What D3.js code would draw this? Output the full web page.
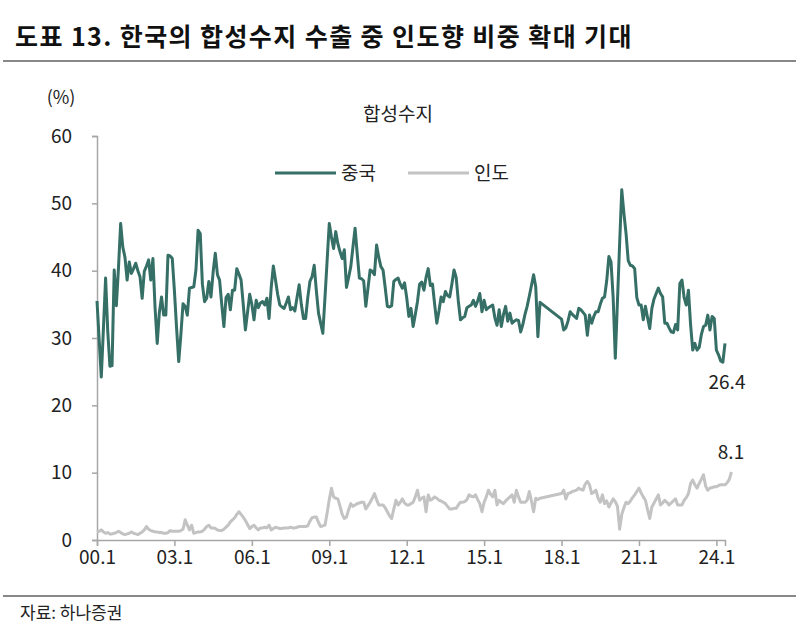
<!DOCTYPE html>
<meta charset="utf-8">
<style>
body { margin: 0; background: #fff; }
svg text { font-family: "Noto Sans CJK KR", "Noto Sans", sans-serif; fill: #222; }
</style>
<body>
<svg width="800" height="643"></svg>
<script src="https://cdn.jsdelivr.net/npm/d3@7"></script>
<script>
// monthly share (%) of Korea's synthetic resin exports, from 2000.1
// null = month missing in the source (line just joins across)
var chinaShare = [
  35.5, 29.8, 24.2, 31.5, 38.9, 31.0, 25.8, 25.9, 40.1, 34.8, 40.5, 47.0, // 2000
  43.5, 42.0, 38.6, 41.3, 39.6, 40.3, 41.1, 40.0, 39.1, 35.9, 39.9, 40.7, // 2001
  41.6, 38.6, 41.8, 34.5, 29.2, 33.8, 36.1, 33.4, 33.4, 42.3, 42.2, 41.8, // 2002
  37.0, 31.5, 26.5, 30.5, 35.1, 34.7, 33.4, 37.4, 37.5, 37.6, 40.1, 46.0, // 2003
  45.5, 38.0, 35.4, 35.9, 38.4, 36.1, 39.8, 42.6, 39.4, 38.6, 35.0, 31.7, // 2004
  36.0, 36.5, 34.2, 37.1, 37.1, 40.3, 39.5, 38.6, 35.0, 31.2, 33.8, 36.5, // 2005
  35.0, 32.7, 35.6, 34.5, 35.2, 35.4, 34.9, 35.9, 32.9, 37.5, 40.7, 38.6, // 2006
  36.5, 34.9, 34.6, 34.4, 35.2, 36.1, 34.2, 34.5, 34.0, 36.0, 37.9, 35.0, // 2007
  32.9, 32.9, 36.0, 38.4, 39.1, 40.8, 37.0, 33.7, 32.2, 30.7, 36.0, 41.5, // 2008
  47.0, 45.0, 43.3, 45.8, 44.0, 42.8, 41.8, 43.1, 37.5, 39.0, 40.6, 43.5, // 2009
  46.3, 42.5, 38.9, 38.8, 38.5, 34.7, 37.4, 40.1, 39.9, 39.4, 43.8, 42.0, // 2010
  40.6, 40.1, 37.5, 34.7, 34.6, 34.8, 38.4, 38.7, 38.9, 38.0, 37.4, 38.2, // 2011
  36.0, 33.2, 34.4, 31.7, 33.5, 35.4, 38.0, 38.3, 37.1, 39.0, 40.3, 37.8, // 2012
  38.0, 35.0, 32.2, 34.0, 36.1, 35.4, 36.9, 36.3, 36.1, 38.0, 40.1, 39.0, // 2013
  35.5, 32.7, 33.0, 33.2, 34.5, 34.7, 34.9, 35.6, 34.7, 35.5, 36.6, 33.9, // 2014
  35.6, 34.2, 34.5, 34.7, 34.9, 33.0, 31.9, 34.2, 31.7, 33.5, 34.7, 32.5, // 2015
  33.7, 32.2, 32.5, 32.7, 32.6, 30.9, 32.0, 33.5, 34.7, 36.2, 37.8, 39.4, // 2016
  37.6, 30.2, 35.3, null, null, null, null, null, null, null, null, null, // 2017
  32.8, 31.2, 31.5, 32.5, 33.9, 33.5, 33.2, 32.9, 34.4, 34.2, 33.8, 33.4, // 2018
  30.4, 33.4, 32.2, 33.2, 33.9, 33.9, 35.0, 35.9, 36.1, 38.5, 42.1, 41.3, // 2019
  36.0, 27.0, 35.5, 44.0, 52.0, 48.5, 45.5, 41.5, 40.8, 40.7, 40.3, 36.0, // 2020
  34.9, 34.9, 32.7, 34.7, 33.0, 31.4, 34.4, 35.8, 36.6, 37.4, 36.6, 36.1, // 2021
  32.2, 32.2, 31.5, 30.9, 30.8, 32.0, 31.2, 38.1, 38.6, 36.0, 34.9, 37.1, // 2022
  32.0, 28.2, 29.2, 28.2, 28.6, 30.5, 31.7, 31.9, 33.4, 31.2, 33.2, 32.9, // 2023
  28.2, 27.5, 26.6, 26.4, 29.2                                            // 2024
];

var indiaShare = [
  1.2, 1.3, 1.5, 1.2, 1.0, 1.1, 0.9, 0.9, 1.0, 1.1, 1.3, 1.1, // 2000
  0.9, 0.8, 0.9, 1.0, 1.2, 1.0, 0.9, 0.8, 1.0, 1.2, 1.5, 2.0, // 2001
  1.6, 1.4, 1.3, 1.2, 1.2, 1.1, 1.1, 1.0, 1.0, 1.1, 1.4, 1.3, // 2002
  1.3, 1.3, 1.3, 1.4, 1.6, 3.0, 2.2, 1.5, 2.2, 1.0, 1.1, 1.2, // 2003
  1.2, 1.3, 1.6, 2.0, 2.2, 1.8, 1.8, 1.7, 1.5, 1.4, 1.4, 1.6, // 2004
  1.9, 2.2, 2.7, 3.0, 3.3, 3.8, 4.2, 3.8, 3.4, 2.9, 2.3, 1.7, // 2005
  2.0, 2.2, 1.8, 1.5, 1.8, 1.8, 1.9, 1.8, 2.2, 1.5, 1.7, 1.9, // 2006
  1.8, 1.7, 1.7, 1.8, 1.8, 1.8, 1.9, 1.8, 1.8, 1.9, 2.0, 2.0, // 2007
  2.0, 2.0, 2.1, 2.8, 3.3, 3.4, 3.4, 2.6, 2.0, 2.1, 2.2, 4.0, // 2008
  6.0, 7.7, 6.4, 6.2, 6.1, 5.0, 3.8, 3.2, 3.4, 4.5, 5.4, 5.0, // 2009
  5.2, 5.4, 5.5, 5.6, 5.6, 4.6, 5.1, 5.6, 6.2, 6.9, 6.0, 5.2, // 2010
  5.2, 5.2, 4.8, 4.2, 3.6, 3.2, 4.6, 5.9, 5.2, 5.6, 6.1, 5.5, // 2011
  5.2, 5.2, 5.4, 5.6, 6.4, 7.4, 5.9, 6.2, 6.4, 4.2, 6.7, 5.9, // 2012
  6.1, 6.4, 6.2, 5.9, 5.8, 5.6, 5.4, 5.0, 4.6, 4.6, 4.7, 4.7, // 2013
  5.2, 5.6, 5.6, 5.7, 6.0, 6.7, 6.5, 6.4, 6.7, 6.0, 5.4, 4.2, // 2014
  5.6, 6.4, 7.4, 6.8, 6.4, 7.4, 5.2, 5.9, 5.6, 5.4, 5.8, 6.1, // 2015
  6.4, 6.7, 5.6, 7.4, 6.4, 5.6, 5.6, 5.6, 5.9, 7.2, 5.8, 4.2, // 2016
  6.2, 6.0, 6.2, null, null, null, null, null, null, null, null, null, // 2017
  6.9, 7.4, 6.1, 6.9, 7.0, 7.2, 7.3, 7.4, 7.7, 7.5, 7.4, 8.3, // 2018
  8.7, 8.2, 6.9, 7.1, 7.4, 6.2, 5.6, 6.7, 5.4, 5.8, 4.9, 5.5, // 2019
  6.1, 5.7, 5.0, 1.6, 3.8, 4.8, 5.6, 5.4, 5.8, 6.3, 6.7, 7.2, // 2020
  7.7, 7.0, 6.4, 5.9, 4.5, 3.2, 4.9, 5.5, 6.1, 6.7, 5.2, 5.5, // 2021
  5.9, 5.6, 5.2, 5.5, 5.8, 6.1, 5.2, 5.2, 5.2, 5.9, 6.3, 6.9, // 2022
  8.4, 8.9, 8.2, 7.7, 8.4, 9.0, 9.7, 8.0, 7.4, 7.7, 7.8, 7.9, // 2023
  7.9, 8.1, 8.2, 8.2, 8.2, 8.5, 9.0, 10.1                     // 2024
];

var seriesNames = ["중국", "인도"];
var xTickLabels = ["00.1", "03.1", "06.1", "09.1", "12.1", "15.1", "18.1", "21.1", "24.1"];
var yTicks = [0, 10, 20, 30, 40, 50, 60];
var endLabels = ["26.4", "8.1"];

var svg = d3.select("svg");
var chinaColor = "#356f66", indiaColor = "#c3c3c3", axisColor = "#a6a6a6";

// title + rules
svg.append("text")
    .attr("x", 15).attr("y", 46)
    .style("font-size", "25px").style("font-weight", "bold").style("fill", "#111")
    .style("letter-spacing", "1.4px")
    .text("도표 13. 한국의 합성수지 수출 중 인도향 비중 확대 기대");
svg.append("line").attr("x1", 3).attr("x2", 796).attr("y1", 61).attr("y2", 61)
    .style("stroke", "#888").style("stroke-width", 2);
svg.append("line").attr("x1", 3).attr("x2", 796).attr("y1", 596).attr("y2", 596)
    .style("stroke", "#888").style("stroke-width", 2);
svg.append("text").attr("x", 20).attr("y", 619)
    .style("font-size", "17px").text("자료: 하나증권");

var x = d3.scaleLinear().domain([0, 292]).range([97, 725]);
var y = d3.scaleLinear().domain([0, 60]).range([540, 136]);

// axes
var yAxis = svg.append("g").attr("transform", "translate(97,0)")
    .call(d3.axisLeft(y).tickValues(yTicks).tickSize(5).tickPadding(20));
var xAxis = svg.append("g").attr("transform", "translate(0,540)")
    .call(d3.axisBottom(x)
        .tickValues(xTickLabels.map(function(l) { return +l.split(".")[0] * 12; }))
        .tickFormat(function(d, i) { return xTickLabels[i]; })
        .tickSize(6).tickPadding(5));
[yAxis, xAxis].forEach(function(a) {
  a.select(".domain").style("stroke", axisColor).style("stroke-width", 1.5);
  a.selectAll(".tick line").style("stroke", axisColor).style("stroke-width", 1.5);
  a.selectAll("text").style("font-family", "'Noto Sans CJK KR'").style("font-size", "19px").style("fill", "#222");
});

svg.append("text").attr("x", 61).attr("y", 104).attr("text-anchor", "middle")
    .style("font-size", "18px").text("(%)");
svg.append("text").attr("x", 398).attr("y", 121).attr("text-anchor", "middle")
    .style("font-size", "19px").text("합성수지");

// lines (missing months are skipped so the line joins across)
function toPoints(arr) {
  return arr.map(function(v, i) { return {m: i, v: v}; })
            .filter(function(d) { return d.v !== null; });
}
var line = d3.line().x(function(d) { return x(d.m); }).y(function(d) { return y(d.v); });

svg.append("path").datum(toPoints(indiaShare)).attr("d", line)
    .style("fill", "none").style("stroke", indiaColor).style("stroke-width", 3).style("stroke-linejoin", "round");
svg.append("path").datum(toPoints(chinaShare)).attr("d", line)
    .style("fill", "none").style("stroke", chinaColor).style("stroke-width", 3).style("stroke-linejoin", "round");

// end labels
svg.append("text").attr("x", 727).attr("y", 389).attr("text-anchor", "middle")
    .style("font-size", "19px").text(endLabels[0]);
svg.append("text").attr("x", 731).attr("y", 459).attr("text-anchor", "middle")
    .style("font-size", "19px").text(endLabels[1]);

// legend
var legend = svg.append("g").selectAll("g")
    .data([{name: seriesNames[0], c: chinaColor, x: 275}, {name: seriesNames[1], c: indiaColor, x: 408}])
    .enter().append("g");
legend.append("line")
    .attr("x1", function(d) { return d.x; }).attr("x2", function(d) { return d.x + 61; })
    .attr("y1", 173).attr("y2", 173)
    .style("stroke", function(d) { return d.c; }).style("stroke-width", 3);
legend.append("text")
    .attr("x", function(d) { return d.x + 66; }).attr("y", 180)
    .style("font-size", "19px").text(function(d) { return d.name; });
</script>
</body>
